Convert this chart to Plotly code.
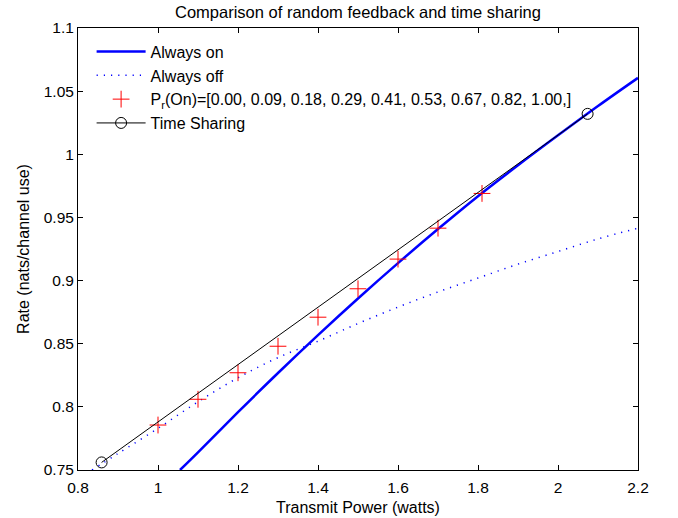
import plotly.graph_objects as go

# ---- data ----
on_x = [1.055, 1.1, 1.2, 1.3, 1.4, 1.5, 1.6, 1.7, 1.8, 1.9, 2.0, 2.1, 2.2]
on_y = [0.750, 0.764, 0.7958, 0.8268, 0.8568, 0.8858, 0.9138, 0.9408, 0.9668, 0.9913, 1.015, 1.0382, 1.0605]

off_x = [0.835, 0.9, 1.0, 1.1, 1.2, 1.3, 1.4, 1.5, 1.6, 1.7, 1.8, 1.9, 2.0, 2.1, 2.2]
off_y = [0.750, 0.763, 0.783, 0.804, 0.823, 0.839, 0.852, 0.866, 0.879, 0.891, 0.902, 0.913, 0.923, 0.933, 0.9415]

pr_on = [0.00, 0.09, 0.18, 0.29, 0.41, 0.53, 0.67, 0.82, 1.00]
rand_x = [1.0, 1.1, 1.2, 1.3, 1.4, 1.5, 1.6, 1.7, 1.81]
rand_y = [0.7856, 0.806, 0.827, 0.848, 0.871, 0.8935, 0.917, 0.9415, 0.969]

ts_x = [0.859, 2.074]
ts_y = [0.756, 1.032]

x_ticks = [0.8, 1.0, 1.2, 1.4, 1.6, 1.8, 2.0, 2.2]
x_tick_text = ["0.8", "1", "1.2", "1.4", "1.6", "1.8", "2", "2.2"]
y_ticks = [0.75, 0.8, 0.85, 0.9, 0.95, 1.0, 1.05, 1.1]
y_tick_text = ["0.75", "0.8", "0.85", "0.9", "0.95", "1", "1.05", "1.1"]

FONT = "Liberation Sans, Arial, sans-serif"

pr_label = "P<sub>r</sub>(On)=[" + "".join(f"{p:.2f}, " for p in pr_on[:-1]) + f"{pr_on[-1]:.2f},]"

fig = go.Figure()
fig.add_trace(go.Scatter(x=on_x, y=on_y, mode="lines", name="Always on",
                         line=dict(color="#0000ff", width=2.5, shape="spline")))
fig.add_trace(go.Scatter(x=off_x, y=off_y, mode="lines", name="Always off",
                         line=dict(color="#0000ff", width=1.5, dash="1.2px,6px", shape="spline")))
fig.add_trace(go.Scatter(x=rand_x, y=rand_y, mode="markers", name=pr_label,
                         marker=dict(symbol="cross-thin-open", size=12, color="#ff0000",
                                     line=dict(color="#ff0000", width=1))))
fig.add_trace(go.Scatter(x=ts_x, y=ts_y, mode="lines+markers", name="Time Sharing",
                         line=dict(color="black", width=1),
                         marker=dict(symbol="circle-open", size=11, color="black",
                                     line=dict(color="black", width=1))))

axis_common = dict(showline=True, linecolor="black", linewidth=1, mirror="ticks",
                   ticks="inside", ticklen=5, tickwidth=1, tickcolor="black",
                   showgrid=False, zeroline=False, automargin=False,
                   tickfont=dict(family=FONT, size=15.5, color="black"))

fig.update_xaxes(range=[0.8, 2.2], tickvals=x_ticks, ticktext=x_tick_text,
                 ticklabelstandoff=3,
                 title=dict(text="Transmit Power (watts)", font=dict(family=FONT, size=16, color="black"),
                            standoff=7),
                 **axis_common)
fig.update_yaxes(range=[0.75, 1.1], tickvals=y_ticks, ticktext=y_tick_text,
                 title=dict(text="Rate (nats/channel use)", font=dict(family=FONT, size=16, color="black"),
                            standoff=10),
                 **axis_common)

W, H = 678, 518
fig.update_layout(
    width=W, height=H, autosize=False,
    margin=dict(l=78, r=40, t=28, b=48),
    paper_bgcolor="white", plot_bgcolor="white",
    title=dict(text="Comparison of random feedback and time sharing",
               font=dict(family=FONT, size=16.5, color="black"),
               x=358 / W, xanchor="center", y=1 - 12 / H, yanchor="middle",
               xref="container", yref="container"),
    legend=dict(x=0.0243, y=0.985, xanchor="left", yanchor="top",
                bgcolor="rgba(0,0,0,0)", borderwidth=0, itemwidth=49,
                font=dict(family=FONT, size=16, color="black"), tracegroupgap=0),
    showlegend=True,
)

fig.write_html("out.html", config={"displayModeBar": False},
               post_script="document.body.style.margin='0';")
